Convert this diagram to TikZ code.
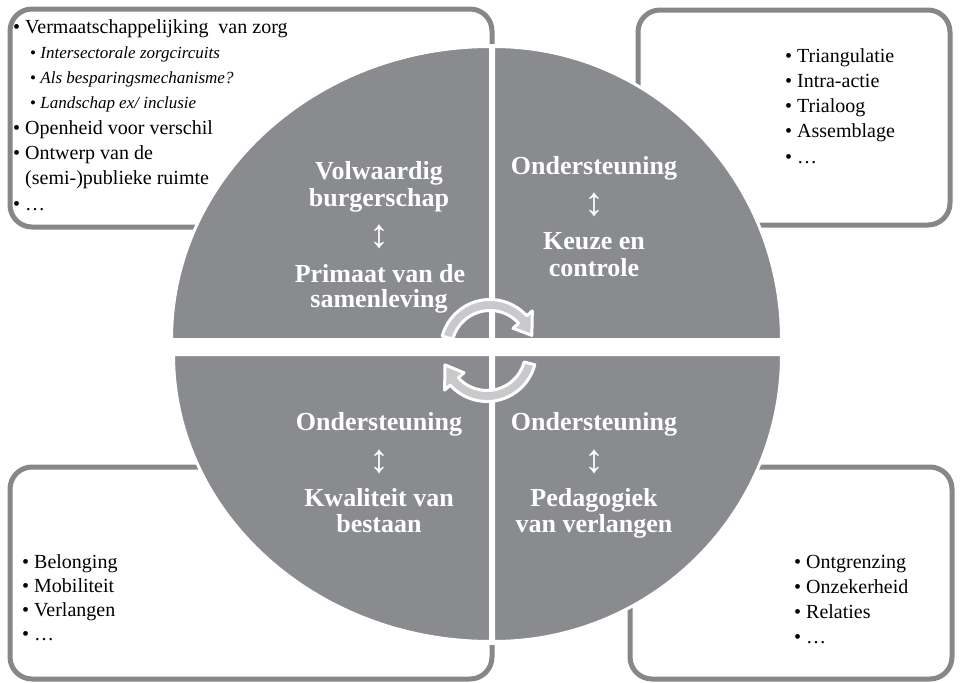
\documentclass[tikz,border=0pt]{standalone}
\usepackage{fontspec}
\setmainfont{Liberation Serif}
\definecolor{quadgray}{RGB}{138,139,143}
\definecolor{boxgray}{RGB}{134,135,139}
\definecolor{arrowfill}{RGB}{200,201,203}
\begin{document}
\begin{tikzpicture}[x=1pt,y=-1pt,
  box/.style={draw=boxgray,line width=5pt,rounded corners=22pt,fill=white},
  quad/.style={fill=quadgray,draw=white,line width=3pt},
  cyc/.style={fill=arrowfill,draw=white,line width=3pt,line join=round},
  btxt/.style={anchor=base west,inner sep=0pt,font=\fontsize{20}{24}\selectfont},
  stxt/.style={anchor=base west,inner sep=0pt,font=\fontsize{17}{20}\selectfont},
  lbl/.style={anchor=base,inner sep=0pt,text=white,font=\fontsize{26}{28}\selectfont\bfseries},
  updown/.style={inner sep=0pt,text=white,font=\fontsize{40}{42}\selectfont}]
\useasboundingbox (0,0) rectangle (962,683);
% boxes
\draw[box] (10,9) rectangle (492,227);
\draw[box] (638,10) rectangle (950,225);
\draw[box] (10,467) rectangle (492,679);
\draw[box] (630,467) rectangle (952,679);
% gap strip
\fill[white] (489,44) rectangle (495,645);
% quadrants
\draw[quad] (490.5,339.5) -- (171.5,339.5) arc[start angle=180,end angle=270,x radius=319,y radius=293] -- cycle;
\draw[quad] (493.5,339.5) -- (493.5,46.5) arc[start angle=270,end angle=360,x radius=288,y radius=293] -- cycle;
\draw[quad] (493.5,354.5) -- (781.5,354.5) arc[start angle=0,end angle=90,x radius=288,y radius=287] -- cycle;
\draw[quad] (490.5,354.5) -- (490.5,641.5) arc[start angle=90,end angle=180,x radius=317,y radius=287] -- cycle;
% cycle arrows
\begin{scope}[shift={(490,349)}]
\draw[cyc] (195:49.5) arc[start angle=195,end angle=318,radius=49.5] -- (318:57) -- (342:44) -- (318:31) -- (318:38.5) arc[start angle=318,end angle=195,radius=38.5] -- cycle;
\end{scope}
\begin{scope}[shift={(487,352)}]
\draw[cyc] (15:49.5) arc[start angle=15,end angle=138,radius=49.5] -- (138:57) -- (163:44) -- (138:31) -- (138:38.5) arc[start angle=138,end angle=15,radius=38.5] -- cycle;
\end{scope}
% top-left box text
\node[btxt] (tl1) at (13,33) {\textbullet\ Vermaatschappelijking\ \ van zorg};
\node[stxt] (tl2) at (30,58.3) {\textbullet\ \textit{Intersectorale zorgcircuits}};
\node[stxt] (tl3) at (30,83.6) {\textbullet\ \textit{Als besparingsmechanisme?}};
\node[stxt] (tl4) at (30,108.9) {\textbullet\ \textit{Landschap ex/ inclusie}};
\node[btxt] (tl5) at (13,134.2) {\textbullet\ Openheid voor verschil};
\node[btxt] (tl6) at (13,159.5) {\textbullet\ Ontwerp van de};
\node[btxt] (tl7) at (25,184.8) {(semi-)publieke ruimte};
\node[btxt] (tl8) at (13,210) {\textbullet\ \ldots};
% top-right box text
\foreach \t [count=\i] in {Triangulatie,Intra-actie,Trialoog,Assemblage,\ldots}
  \node[btxt] (tr\i) at (785,{62+25.3*(\i-1)}) {\textbullet\ \t};
% bottom-left box text
\foreach \t [count=\i] in {Belonging,Mobiliteit,Verlangen,\ldots}
  \node[btxt] (bl\i) at (22,{568+24.3*(\i-1)}) {\textbullet\ \t};
% bottom-right box text
\foreach \t [count=\i] in {Ontgrenzing,Onzekerheid,Relaties,\ldots}
  \node[btxt] (br\i) at (794,{568+25*(\i-1)}) {\textbullet\ \t};
% quadrant labels
\node[lbl] (q1a) at (379,179) {Volwaardig};
\node[lbl] (q1b) at (379,206) {burgerschap};
\node[updown] (q1c) at (379,237) {↕};
\node[lbl] (q1d) at (380,282) {Primaat van de};
\node[lbl] (q1e) at (379,307) {samenleving};
\node[lbl] (q2a) at (594,174) {Ondersteuning};
\node[updown] (q2b) at (594,205) {↕};
\node[lbl] (q2c) at (594,249) {Keuze en};
\node[lbl] (q2d) at (594,276) {controle};
\node[lbl] (q3a) at (379,430) {Ondersteuning};
\node[updown] (q3b) at (379,462) {↕};
\node[lbl] (q3c) at (379,506) {Kwaliteit van};
\node[lbl] (q3d) at (379,532) {bestaan};
\node[lbl] (q4a) at (594,430) {Ondersteuning};
\node[updown] (q4b) at (594,462) {↕};
\node[lbl] (q4c) at (594,506) {Pedagogiek};
\node[lbl] (q4d) at (594,532) {van verlangen};
\end{tikzpicture}
\end{document}
